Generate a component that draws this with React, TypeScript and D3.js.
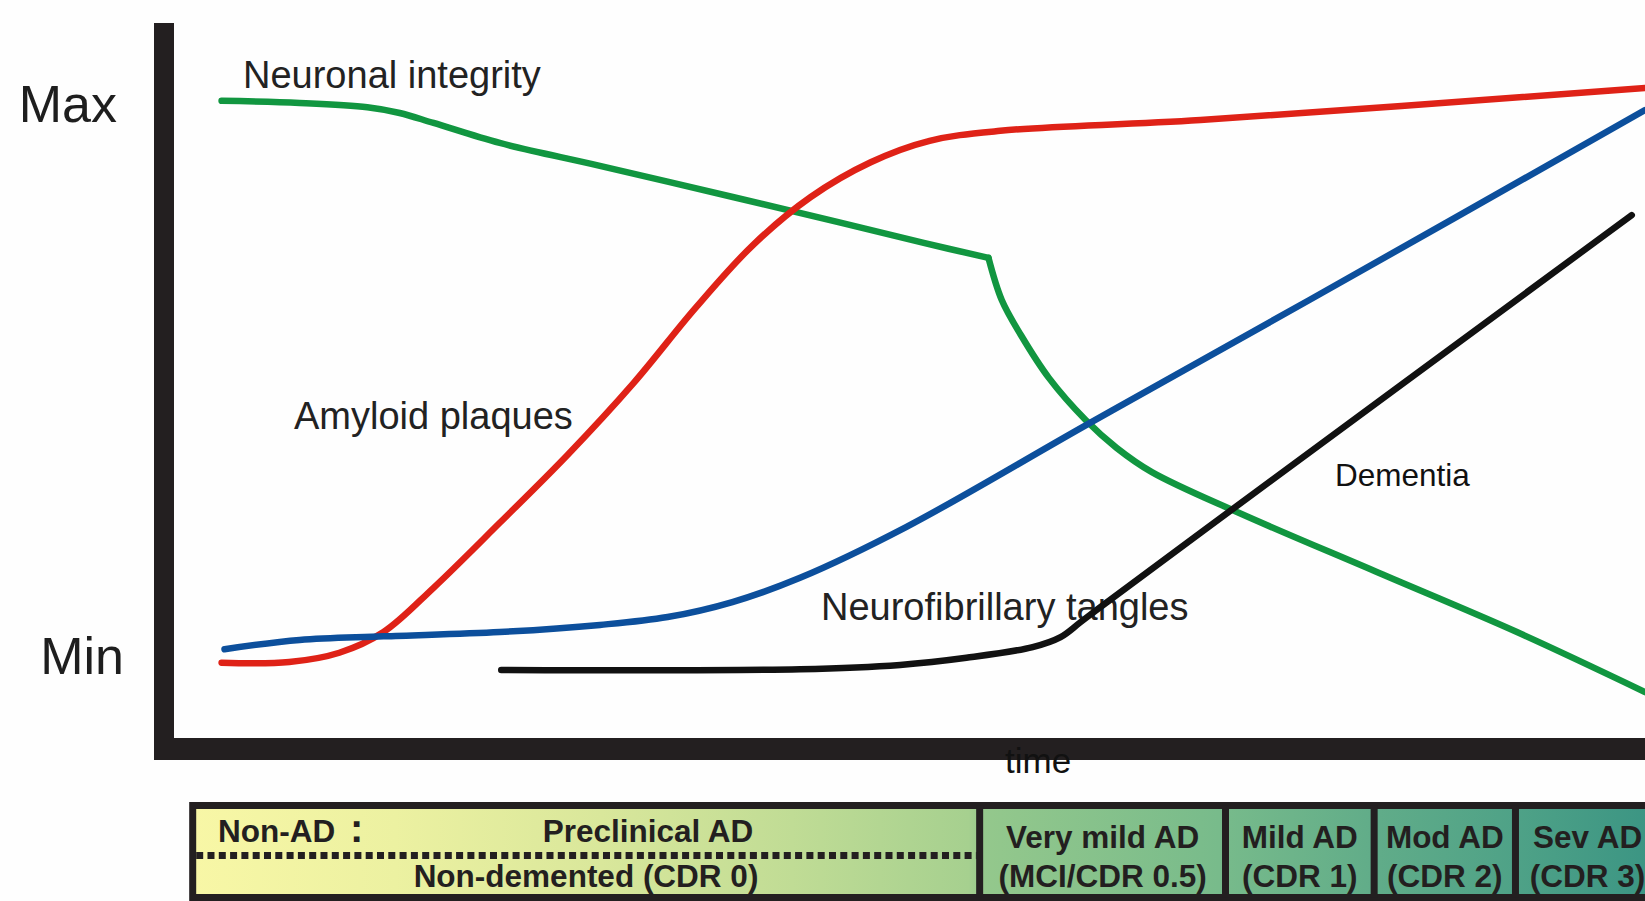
import React from "react";
import * as d3 from "d3";

// ---- Data (time on 0–100, level on 0 = Min … 100 = Max) ----
const greenT = [3.3, 8.6, 13.2, 15.4, 17.7, 22.2, 29.0, 38.1, 45.2, 51.0, 55.4, 56.3, 57.6, 59.5, 62.0, 64.1, 66.5, 72.4, 81.9, 91.3, 100];
const greenV = [89.1, 88.8, 88.2, 87.4, 86.0, 83.2, 80.0, 75.6, 72.1, 69.2, 67.1, 61.2, 56.3, 50.3, 44.4, 40.5, 37.1, 31.4, 23.0, 14.7, 6.3];
const greenBreakIndex = 10; // sharp corner in the neuronal integrity curve

const redT = [3.3, 7.9, 11.3, 14.3, 17.7, 22.2, 26.8, 31.3, 35.5, 39.4, 43.3, 47.4, 51.4, 56.2, 69.8, 100];
const redV = [10.4, 10.5, 11.8, 14.7, 20.9, 30.0, 39.5, 49.6, 60.1, 68.9, 75.6, 80.5, 83.5, 84.9, 86.4, 90.9];

const blueT = [3.5, 8.6, 14.3, 22.2, 29.0, 33.6, 38.0, 42.6, 49.8, 62.3, 77.2, 100];
const blueV = [12.3, 13.6, 14.1, 14.7, 15.7, 16.8, 18.9, 22.3, 29.4, 44.0, 61.2, 87.8];

const blackT = [22.3, 42.6, 49.4, 53.9, 58.4, 60.3, 61.6, 63.0, 69.8, 99.1];
const blackV = [9.4, 9.5, 10.1, 11.1, 12.6, 14.0, 16.0, 18.2, 28.6, 73.1];

const yTickLabels = ["Min", "Max"];
const yTickValues = [0, 100];

const seriesNames = ["Neuronal integrity", "Amyloid plaques", "Neurofibrillary tangles", "Dementia"];

// stage band (time units)
const stageDividers = [54.8, 71.5, 81.6, 91.2];
const stageStart = 1.1;
const stageEnd = 101;
const stageTop = ["Very mild AD", "Mild AD", "Mod AD", "Sev AD"];
const stageBottom = ["(MCI/CDR 0.5)", "(CDR 1)", "(CDR 2)", "(CDR 3)"];
const preclinTopLeft = "Non-AD";
const preclinTopRight = "Preclinical AD";
const preclinBottom = "Non-demented (CDR 0)";

const W = 1645;
const H = 901;

export default function App() {
  const x = d3.scaleLinear().domain([0, 100]).range([173, 1645]);
  const y = d3.scaleLinear().domain([0, 100]).range([737, 23]);

  const line = d3
    .line<[number, number]>()
    .x((d) => x(d[0]))
    .y((d) => y(d[1]))
    .curve(d3.curveCatmullRom.alpha(0.5));

  const zip = (a: number[], b: number[]) => a.map((t, i) => [t, b[i]] as [number, number]);
  const green = zip(greenT, greenV);
  const greenA = green.slice(0, greenBreakIndex + 1);
  const greenB = green.slice(greenBreakIndex);
  const red = zip(redT, redV);
  const blue = zip(blueT, blueV);
  const black = zip(blackT, blackV);

  const axisColor = "#231f20";
  const sans = "'Liberation Sans', Arial, Helvetica, sans-serif";

  const bandTop = 805.5;
  const bandH = 92;
  const bx0 = x(stageStart);
  const bx1 = x(stageEnd);
  const edges = [stageStart, ...stageDividers, stageEnd];

  return (
    <svg
      width={W}
      height={H}
      style={{ position: "absolute", left: 0, top: 0, background: "#fefefe" }}
      xmlns="http://www.w3.org/2000/svg"
    >
      <defs>
        <linearGradient id="bandGrad" gradientUnits="userSpaceOnUse" x1={bx0} x2={bx1} y1={0} y2={0}>
          <stop offset="0" stopColor="#f8f7a6" />
          <stop offset="0.14" stopColor="#ecf1a1" />
          <stop offset="0.28" stopColor="#d9e79b" />
          <stop offset="0.41" stopColor="#c0dc95" />
          <stop offset="0.53" stopColor="#a6d08f" />
          <stop offset="0.54" stopColor="#94c88c" />
          <stop offset="0.70" stopColor="#78bb8b" />
          <stop offset="0.80" stopColor="#62ad89" />
          <stop offset="0.90" stopColor="#4fa287" />
          <stop offset="1" stopColor="#3a9483" />
        </linearGradient>
      </defs>
      <rect x={0} y={0} width={W} height={H} fill="#fefefe" />

      {/* Y axis labels */}
      {yTickLabels.map((lab, i) => (
        <text
          key={lab}
          x={i === 0 ? 124 : 117}
          y={y(yTickValues[i]) + (i === 0 ? -63 : 99)}
          textAnchor="end"
          fontFamily={sans}
          fontSize={52}
          fill="#1e1e1e"
        >
          {lab}
        </text>
      ))}

      {/* curve labels */}
      <text x={243} y={88} fontFamily={sans} fontSize={38} fill="#222">{seriesNames[0]}</text>
      <text x={294} y={429} fontFamily={sans} fontSize={38} fill="#222">{seriesNames[1]}</text>
      <text x={821} y={620} fontFamily={sans} fontSize={38} fill="#222">{seriesNames[2]}</text>
      <text x={1335} y={486} fontFamily={sans} fontSize={31.5} fill="#111">{seriesNames[3]}</text>

      {/* curves */}
      <g fill="none" strokeWidth={6.5} strokeLinecap="round" strokeLinejoin="miter">
        <path d={line(greenA) || ""} stroke="#119640" />
        <path d={line(greenB) || ""} stroke="#119640" />
        <path d={line(red) || ""} stroke="#df2217" />
        <path d={line(blue) || ""} stroke="#0c4f9c" />
        <path d={line(black) || ""} stroke="#111" />
      </g>

      {/* thick axes */}
      <rect x={x(0) - 19} y={y(100)} width={20} height={y(0) - y(100) + 23} fill={axisColor} />
      <rect x={x(0) - 19} y={y(0) + 1} width={x(100) - x(0) + 19} height={22} fill={axisColor} />
      <text x={1005} y={773} fontFamily={sans} fontSize={35} fill="#111">time</text>

      {/* stage band */}
      <rect x={bx0 + 3.5} y={bandTop} width={bx1 - bx0} height={bandH} fill="url(#bandGrad)" stroke={axisColor} strokeWidth={7} />
      {stageDividers.map((d) => (
        <line key={d} x1={x(d)} x2={x(d)} y1={bandTop} y2={bandTop + bandH} stroke={axisColor} strokeWidth={7} />
      ))}
      <line
        x1={bx0 + 7}
        x2={x(stageDividers[0]) - 3}
        y1={855.5}
        y2={855.5}
        stroke={axisColor}
        strokeWidth={7}
        strokeDasharray="7 4.3"
      />
      <g fontFamily={sans} fontWeight="bold" fontSize={31.5} fill={axisColor}>
        <text x={218} y={842}>{preclinTopLeft}</text>
        <text x={350} y={842} fontSize={40}>:</text>
        <text x={648} y={842} textAnchor="middle">{preclinTopRight}</text>
        <text x={586} y={887} textAnchor="middle">{preclinBottom}</text>
        {stageTop.map((s, i) => {
          const cx = (x(edges[i + 1]) + x(edges[i + 2])) / 2;
          return (
            <g key={s}>
              <text x={cx} y={848} textAnchor="middle">{s}</text>
              <text x={cx} y={887} textAnchor="middle">{stageBottom[i]}</text>
            </g>
          );
        })}
      </g>
    </svg>
  );
}
